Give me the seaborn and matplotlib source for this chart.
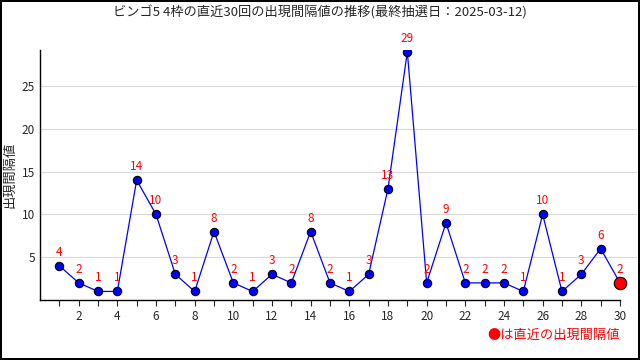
import matplotlib
matplotlib.use('Agg')
import matplotlib.pyplot as plt
import seaborn as sns
import pandas as pd
import numpy as np

# data
draw_no = list(range(1, 31))
intervals = [4, 2, 1, 1, 14, 10, 3, 1, 8, 2, 1, 3, 2, 8, 2, 1, 3, 13, 29, 2,
             9, 2, 2, 2, 1, 10, 1, 3, 6, 2]
title = 'ビンゴ5 4枠の直近30回の出現間隔値の推移(最終抽選日：2025-03-12)'

df = pd.DataFrame({'draw': draw_no, 'interval': intervals})

sns.set_style('white')
plt.rcParams['font.family'] = ['Noto Sans CJK JP', 'DejaVu Sans']

fig = plt.figure(figsize=(6.4, 3.6), dpi=100)
fig.patch.set_edgecolor('black')
fig.patch.set_linewidth(1.6)
ax = fig.add_axes([40 / 640, 60 / 360, 597 / 640, 250 / 360])
ax.patch.set_visible(False)

sns.lineplot(data=df, x='draw', y='interval', ax=ax, color='blue', lw=0.9,
             marker='o', markersize=6, markerfacecolor='blue',
             markeredgecolor='black', markeredgewidth=0.8)
last = df.iloc[[-1]]
ax.scatter(last['draw'], last['interval'], s=80, color='red',
           edgecolor='black', linewidth=0.8, zorder=5)

for x, y in zip(df['draw'], df['interval']):
    ax.annotate(str(y), (x, y), xytext=(0, 5), textcoords='offset points',
                ha='center', va='bottom', color='red', fontsize=8.5)

ax.set_xlim(0, 30.88)
ax.set_ylim(0, 29.2)
ax.set_xticks(draw_no)
ax.set_xticklabels([str(d) if d % 2 == 0 else '' for d in draw_no])
ax.set_yticks([5, 10, 15, 20, 25])
ax.yaxis.grid(True, color='#d8d8d8', lw=0.8)
ax.tick_params(axis='x', length=4, direction='out', bottom=True, labelsize=8.5)
ax.tick_params(axis='y', length=0, labelsize=8.5)
for s in ['top', 'right']:
    ax.spines[s].set_visible(False)
for s in ['left', 'bottom']:
    ax.spines[s].set_color('black')
    ax.spines[s].set_linewidth(1)
ax.spines['bottom'].set_bounds(0, 30)
ax.set_xlabel('')
ax.set_ylabel('出現間隔値', fontsize=9.5, va='center')
ax.yaxis.set_label_coords(-30 / 597, 0.5)

fig.text(0.5, 1 - 12 / 360, title, ha='center', va='center', fontsize=9.5)
fig.text(620 / 640, 1 - 335 / 360, '●は直近の出現間隔値', ha='right',
         va='center', color='red', fontsize=9.5)

fig.savefig('out.png', dpi=100)
